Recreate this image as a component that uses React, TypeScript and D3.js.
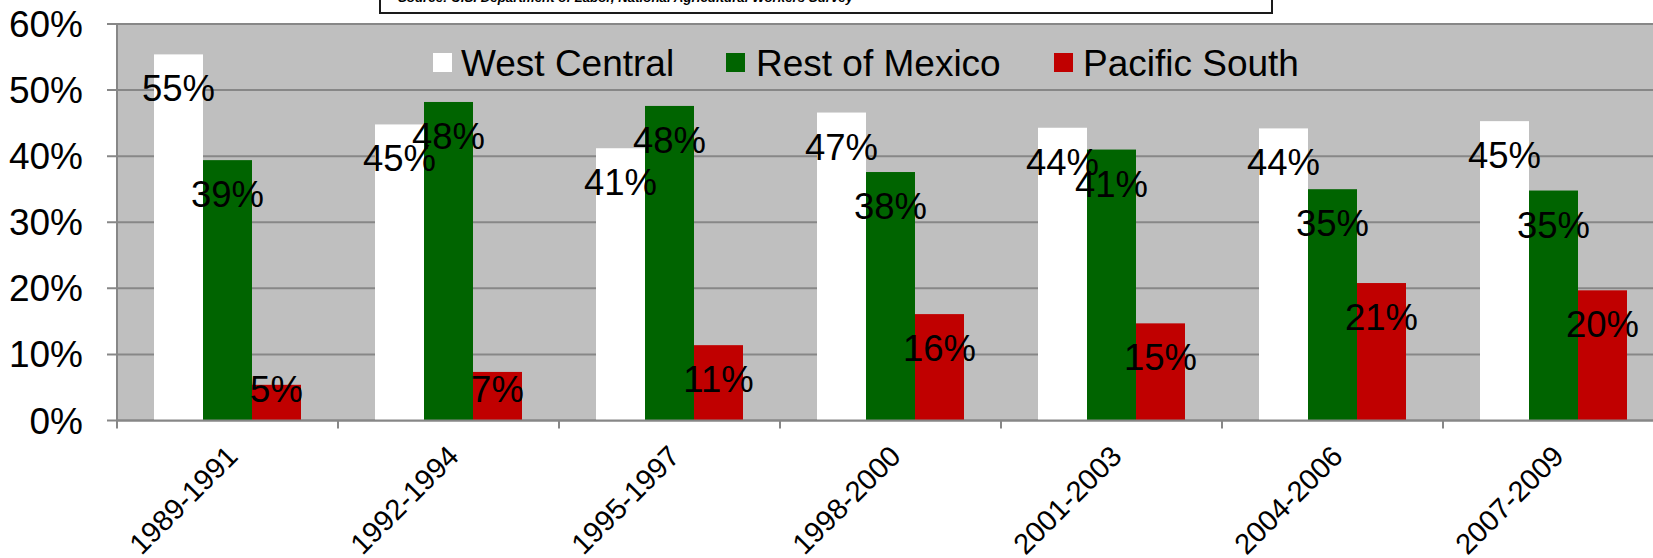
import React, { useEffect, useRef } from "react";
import * as d3 from "d3";

const categories = ["1989-1991", "1992-1994", "1995-1997", "1998-2000", "2001-2003", "2004-2006", "2007-2009"];
const seriesNames = ["West Central", "Rest of Mexico", "Pacific South"];
const seriesColors = ["#FFFFFF", "#006400", "#C00000"];
const westCentral = [0.554, 0.448, 0.412, 0.466, 0.443, 0.442, 0.453];
const restOfMexico = [0.394, 0.482, 0.476, 0.376, 0.410, 0.350, 0.348];
const pacificSouth = [0.054, 0.0735, 0.114, 0.161, 0.147, 0.208, 0.197];
const yTicks = [0, 0.1, 0.2, 0.3, 0.4, 0.5, 0.6];
const sourceText = "Source: U.S. Department of Labor, National Agricultural Workers Survey";

const W = 1653;
const H = 558;
const FONT = "'Liberation Sans', Arial, sans-serif";

export default function App() {
  const ref = useRef<SVGSVGElement>(null);

  useEffect(() => {
    const svg = d3.select(ref.current);
    svg.selectAll("*").remove();

    const series = [westCentral, restOfMexico, pacificSouth];
    const left = 117;
    const bandW = 221;
    const x0 = d3.scaleBand<string>().domain(categories).range([left, left + bandW * categories.length]).padding(0);
    const x1 = d3.scaleBand<string>().domain(seriesNames).range([37, 37 + 147]).padding(0);
    const y = d3.scaleLinear().domain([0, 0.6]).range([420.5, 24]);
    const gridColor = "#878787";

    // source box (cut off at top)
    svg.append("rect").attr("x", 380).attr("y", -40).attr("width", 892).attr("height", 53)
      .attr("fill", "#fff").attr("stroke", "#1a1a1a").attr("stroke-width", 2);
    svg.append("text").attr("x", 398).attr("y", 2).text(sourceText)
      .attr("font-family", FONT).attr("font-size", 13.3).attr("font-weight", "bold").attr("font-style", "italic").attr("fill", "#000");

    // plot background
    svg.append("rect").attr("x", left).attr("y", y(0.6)).attr("width", W - left).attr("height", y(0) - y(0.6)).attr("fill", "#BFBFBF");

    // gridlines + ticks
    yTicks.forEach((t) => {
      svg.append("line").attr("x1", 107).attr("x2", W).attr("y1", y(t)).attr("y2", y(t))
        .attr("stroke", gridColor).attr("stroke-width", 2);
      svg.append("text").attr("x", 83).attr("y", y(t) + 13).attr("text-anchor", "end")
        .attr("font-family", FONT).attr("font-size", 37).attr("fill", "#000").text(d3.format(".0%")(t));
    });
    // y axis
    svg.append("line").attr("x1", left).attr("x2", left).attr("y1", y(0.6)).attr("y2", y(0)).attr("stroke", gridColor).attr("stroke-width", 2);

    // bars
    categories.forEach((c, i) => {
      seriesNames.forEach((s, j) => {
        const v = series[j][i];
        svg.append("rect").attr("x", x0(c)! + x1(s)!).attr("y", y(v)).attr("width", x1.bandwidth())
          .attr("height", y(0) - y(v)).attr("fill", seriesColors[j]);
      });
    });

    // x axis line and ticks
    svg.append("line").attr("x1", left).attr("x2", W).attr("y1", y(0)).attr("y2", y(0)).attr("stroke", gridColor).attr("stroke-width", 2);
    categories.forEach((c) => {
      const xt = x0(c)!;
      svg.append("line").attr("x1", xt).attr("x2", xt).attr("y1", y(0)).attr("y2", y(0) + 8).attr("stroke", gridColor).attr("stroke-width", 2);
    });
    {
      const xt = x0(categories[categories.length - 1])! + bandW;
      svg.append("line").attr("x1", xt).attr("x2", xt).attr("y1", y(0)).attr("y2", y(0) + 8).attr("stroke", gridColor).attr("stroke-width", 2);
    }

    // data labels
    categories.forEach((c, i) => {
      seriesNames.forEach((s, j) => {
        const v = series[j][i];
        const cx = x0(c)! + x1(s)! + x1.bandwidth() / 2;
        const by = Math.min(y(v) + 47, 402);
        svg.append("text").attr("x", cx).attr("y", by).attr("text-anchor", "middle")
          .attr("font-family", FONT).attr("font-size", 36.5).attr("fill", "#000").text(d3.format(".0%")(v));
      });
    });

    // x labels
    categories.forEach((c) => {
      const cx = x0(c)! + bandW / 2;
      svg.append("text").attr("transform", `translate(${cx + 12},${458}) rotate(-45)`)
        .attr("text-anchor", "end").attr("font-family", FONT).attr("font-size", 29).attr("fill", "#000").text(c);
    });

    // legend
    const legendSq = [433, 726, 1054];
    const legendTx = [461, 756, 1083];
    seriesNames.forEach((s, j) => {
      svg.append("rect").attr("x", legendSq[j]).attr("y", 53).attr("width", 19).attr("height", 19).attr("fill", seriesColors[j]);
      svg.append("text").attr("x", legendTx[j]).attr("y", 76).attr("font-family", FONT).attr("font-size", 37).attr("fill", "#000").text(s);
    });
  }, []);

  return (
    <svg ref={ref} width={W} height={H} style={{ position: "absolute", left: 0, top: 0, background: "#fff" }} />
  );
}
